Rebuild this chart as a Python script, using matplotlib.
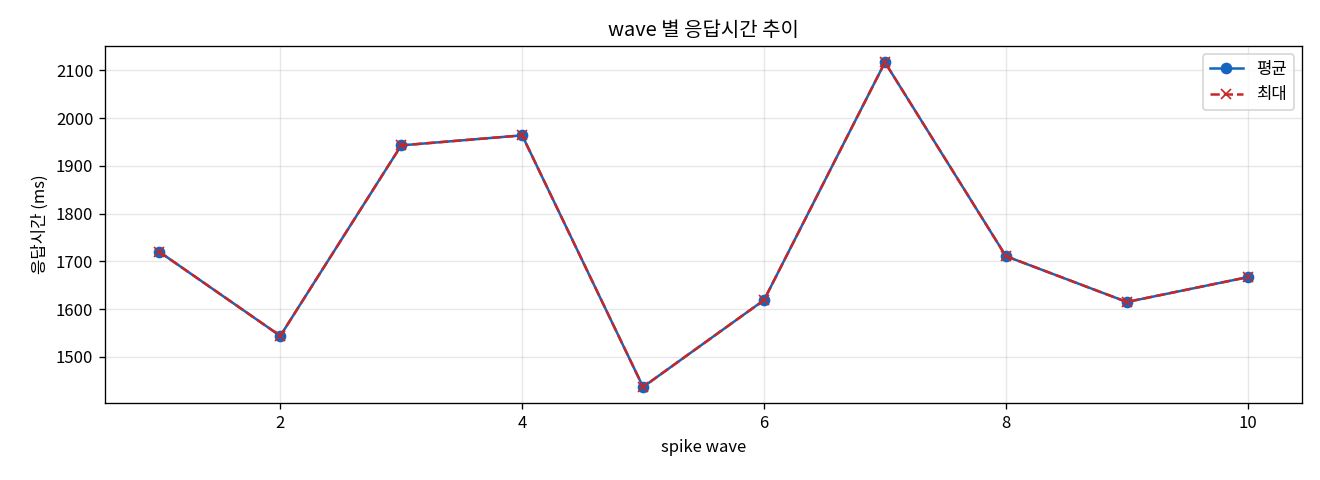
import matplotlib
matplotlib.use('Agg')
import matplotlib.pyplot as plt

plt.rcParams['font.family'] = ['Noto Sans CJK KR', 'DejaVu Sans']
plt.rcParams['axes.unicode_minus'] = False

# 데이터
waves = [1, 2, 3, 4, 5, 6, 7, 8, 9, 10]
avg_ms = [1720, 1544, 1943, 1964, 1437, 1619, 2117, 1711, 1615, 1667]
max_ms = [1720, 1544, 1943, 1964, 1437, 1619, 2117, 1711, 1615, 1667]

fig, ax = plt.subplots(figsize=(11, 4), dpi=120)
ax.plot(waves, avg_ms, marker='o', color='#1565C0', label='평균')
ax.plot(waves, max_ms, marker='x', linestyle='--', color='#C62828', label='최대')
ax.set_title("wave 별 응답시간 추이")
ax.set_xlabel("spike wave")
ax.set_ylabel("응답시간 (ms)")
ax.grid(True, alpha=0.3)
ax.legend()
fig.subplots_adjust(left=0.0795, right=0.9865, top=0.904, bottom=0.16)
plt.savefig("out.png", dpi=120)
plt.close()
